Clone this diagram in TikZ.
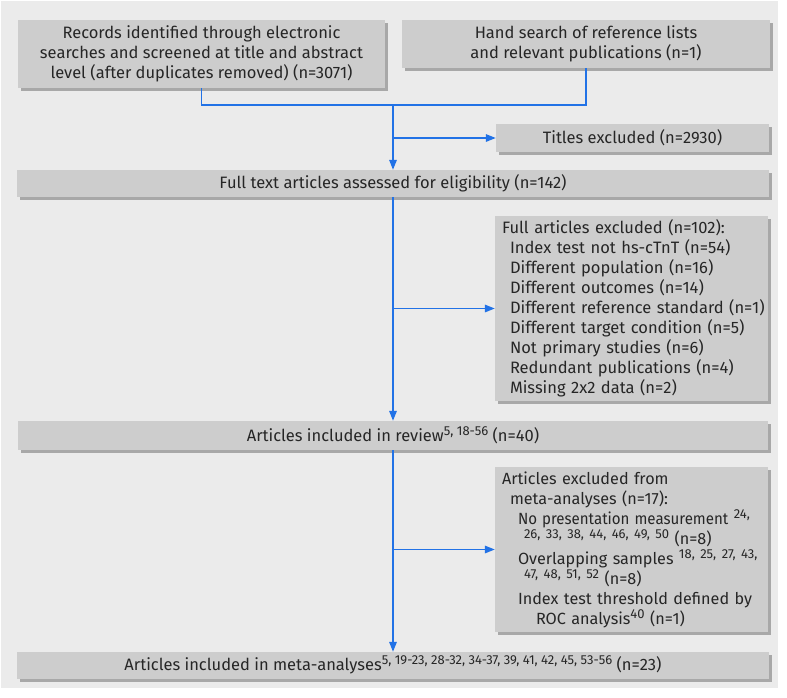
\documentclass[tikz,border=0pt]{standalone}
\usepackage{fontspec}
\setmainfont{Fira Sans}
\usetikzlibrary{arrows.meta,shadows,calc}
\definecolor{bggray}{HTML}{EBEBEB}
\definecolor{boxgray}{HTML}{CDCDCD}
\definecolor{shadowgray}{HTML}{A8A8A8}
\definecolor{lineblue}{HTML}{2272E6}
\definecolor{textgray}{HTML}{262626}
\newcommand\sups[1]{\smash{\raisebox{6pt}{\fontsize{13}{13}\selectfont #1}}}
\tikzset{
  box/.style={fill=boxgray, inner sep=0pt, text=textgray, font=\fontsize{16.5}{20}\selectfont,
    drop shadow={shadow xshift=3pt, shadow yshift=-3pt, fill=shadowgray, opacity=1}},
  conn/.style={draw=lineblue, line width=1.6pt},
  arr/.style={conn, -{Triangle[length=10pt,width=7.5pt]}},
}
\begin{document}
\begin{tikzpicture}[x=1pt,y=-1pt]
\useasboundingbox (0,0) rectangle (787,697);
\fill[white] (0,0) rectangle (787,697);
\fill[bggray] (1,1) rectangle (778,688);

\node[box, minimum width=367pt, minimum height=68pt, align=center] (rec) at (201.5,54)
  {Records identified through electronic\\searches and screened at title and abstract\\level (after duplicates removed) (n=3071)};
\node[box, minimum width=368pt, minimum height=48pt, align=center] (hand) at (586,44)
  {Hand search of reference lists\\and relevant publications (n=1)};
\node[box, minimum width=273pt, minimum height=28pt] (titles) at (632.5,138)
  {Titles excluded (n=2930)};
\node[box, minimum width=752pt, minimum height=27pt] (full) at (393,183.5)
  {Full text articles assessed for eligibility (n=142)};
\node[box, minimum height=185pt, text width=270pt, inner xsep=1.5pt, align=left] (excl1) at (631.5,308.5)
  {\hspace*{5.5pt}Full articles excluded (n=102):\\
   \hspace*{13.5pt}\mbox{Index test not hs-cTnT (n=54)}\\
   \hspace*{13.5pt}\mbox{Different population (n=16)}\\
   \hspace*{13.5pt}\mbox{Different outcomes (n=14)}\\
   \hspace*{13.5pt}\mbox{Different reference standard (n=1)}\\
   \hspace*{13.5pt}\mbox{Different target condition (n=5)}\\
   \hspace*{13.5pt}\mbox{Not primary studies (n=6)}\\
   \hspace*{13.5pt}\mbox{Redundant publications (n=4)}\\
   \hspace*{13.5pt}\mbox{Missing 2x2 data (n=2)}};
\node[box, minimum width=750pt, minimum height=29pt] (review) at (393,435.5)
  {Articles included in review\sups{5, 18-56} (n=40)};
\node[box, minimum height=165pt, text width=270pt, inner xsep=1.5pt, align=left,
      font=\fontsize{16.2}{20}\selectfont] (excl2) at (631.5,549.5)
  {\hspace*{5.5pt}\mbox{Articles excluded from}\\
   \hspace*{13.5pt}\mbox{meta-analyses (n=17):}\\
   \hspace*{21.5pt}\mbox{\scalebox{0.93}[1]{No presentation measurement} \sups{24,}}\\
   \hspace*{27.5pt}\mbox{\sups{26, 33, 38, 44, 46, 49, 50} (n=8)}\\
   \hspace*{21.5pt}\mbox{Overlapping samples \sups{18, 25, 27, 43,}}\\
   \hspace*{27.5pt}\mbox{\sups{47, 48, 51, 52} (n=8)}\\
   \hspace*{21.5pt}\mbox{Index test threshold defined by}\\
   \hspace*{39.5pt}\mbox{ROC analysis\sups{40} (n=1)}};
\node[box, minimum width=752pt, minimum height=27pt] (final) at (393,665.5)
  {Articles included in meta-analyses\sups{5, 19-23, 28-32, 34-37, 39, 41, 42, 45, 53-56} (n=23)};

\coordinate (j) at (393,105);
\draw[conn] (rec.south) |- (j) -| (hand.south);
\draw[arr] (j) -- (full.north);
\draw[arr] (j |- titles.west) -- (titles.west);
\draw[arr] (full.south) -- (review.north);
\draw[arr] (full.south |- excl1.west) -- (excl1.west);
\draw[arr] (review.south) -- (final.north);
\draw[arr] (review.south |- excl2.west) -- (excl2.west);
\end{tikzpicture}
\end{document}
